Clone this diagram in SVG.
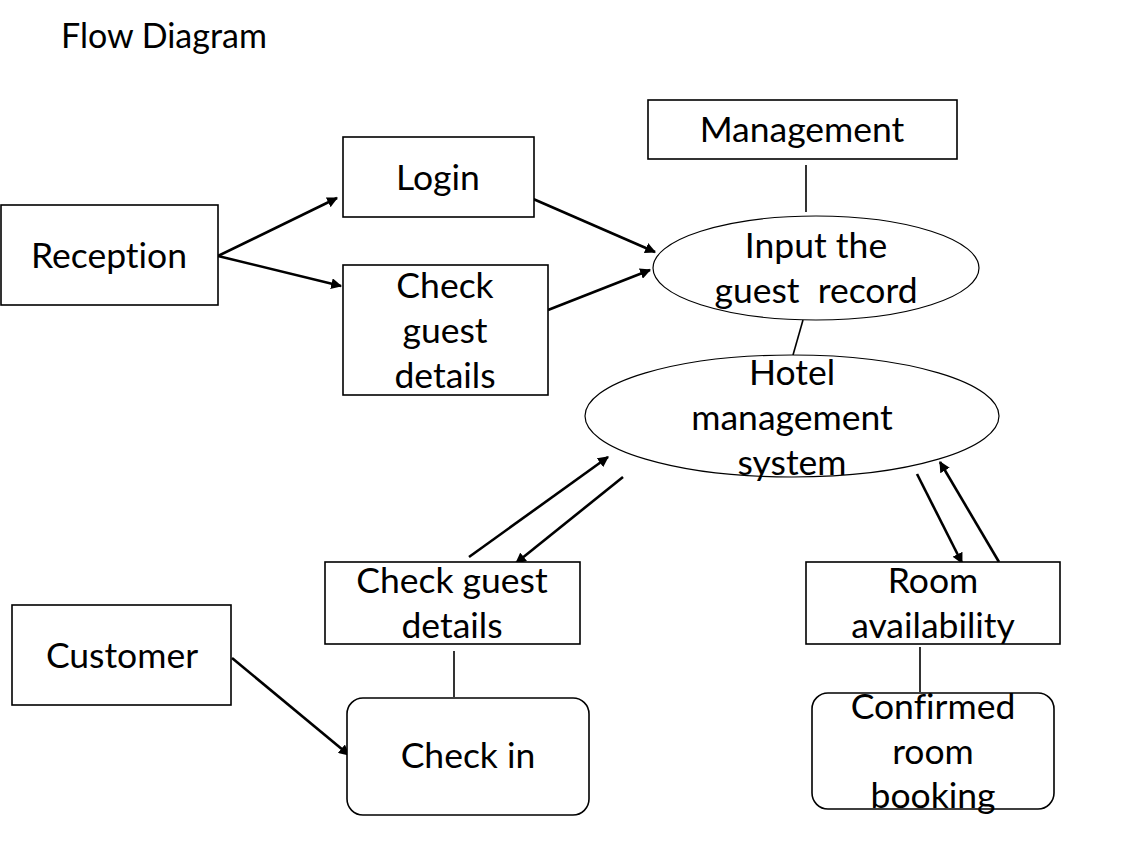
<svg xmlns="http://www.w3.org/2000/svg" width="1143" height="843" viewBox="0 0 1143 843">
<style>
text{font-family:Lato,"Open Sans","Liberation Sans",sans-serif;font-size:35.5px;fill:#000;text-anchor:middle;font-variant-ligatures:none}
.t{text-anchor:start;font-size:34px}
.box{fill:#fff;stroke:#000;stroke-width:1.6}
.ell{fill:#fff;stroke:#000;stroke-width:1.2}
.arr{stroke:#000;stroke-width:2.6;fill:none;marker-end:url(#ah)}
.ln{stroke:#000;stroke-width:1.6;fill:none}
</style>
<defs>
<marker id="ah" viewBox="0 0 10 10" refX="9" refY="5" markerWidth="4.2" markerHeight="4.2" orient="auto" markerUnits="strokeWidth">
<path d="M0,0 L10,5 L0,10 z" fill="#000"/>
</marker>
</defs>
<rect width="1143" height="843" fill="#fff"/>
<text class="t" x="61" y="48">Flow Diagram</text>
<g id="connectors">
<line class="arr" x1="218" y1="256" x2="337" y2="198"/>
<line class="arr" x1="218" y1="256" x2="341" y2="286"/>
<line class="arr" x1="531" y1="198" x2="655" y2="252"/>
<line class="arr" x1="548" y1="310" x2="650" y2="270"/>
<line class="ln" x1="806" y1="165" x2="806" y2="212"/>
<line class="ln" x1="803" y1="320" x2="793" y2="355"/>
<line class="arr" x1="469" y1="557" x2="608" y2="457"/>
<line class="arr" x1="623" y1="477" x2="516" y2="563"/>
<line class="arr" x1="917" y1="474" x2="962" y2="563"/>
<line class="arr" x1="999" y1="562" x2="940" y2="462"/>
<line class="ln" x1="920" y1="647" x2="920" y2="692"/>
<line class="ln" x1="454" y1="651" x2="454" y2="697"/>
<line class="arr" x1="232" y1="658" x2="349" y2="755"/>
</g>
<g id="reception"><rect class="box" x="1" y="205" width="217" height="100"/><text x="109" y="268">Reception</text></g>
<g id="login"><rect class="box" x="343" y="137" width="191" height="80"/><text x="438" y="190">Login</text></g>
<g id="check-guest-1"><rect class="box" x="343" y="265" width="205" height="130"/><text x="445" y="298">Check</text><text x="445" y="343">guest</text><text x="445" y="388">details</text></g>
<g id="management"><rect class="box" x="648" y="100" width="309" height="59"/><text x="802" y="142">Management</text></g>
<g id="input-record"><ellipse class="ell" cx="816" cy="268" rx="163" ry="52"/><text x="816" y="258">Input the</text><text x="816" y="303" xml:space="preserve">guest  record</text></g>
<g id="hms"><ellipse class="ell" cx="792" cy="416" rx="207" ry="61"/><text x="792" y="385">Hotel</text><text x="792" y="430">management</text><text x="792" y="475">system</text></g>
<g id="check-guest-2"><rect class="box" x="325" y="562" width="255" height="82"/><text x="452" y="593">Check guest</text><text x="452" y="638">details</text></g>
<g id="room"><rect class="box" x="806" y="562" width="254" height="82"/><text x="933" y="593">Room</text><text x="933" y="638">availability</text></g>
<g id="confirmed"><rect class="box" x="812" y="693" width="242" height="116" rx="16"/><text x="933" y="719">Confirmed</text><text x="933" y="764">room</text><text x="933" y="808">booking</text></g>
<g id="customer"><rect class="box" x="12" y="605" width="219" height="100"/><text x="122" y="668">Customer</text></g>
<g id="checkin"><rect class="box" x="347" y="698" width="242" height="117" rx="16"/><text x="468" y="768">Check in</text></g>
</svg>
